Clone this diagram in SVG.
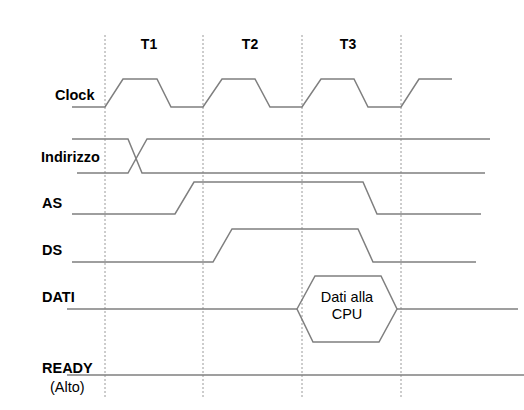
<svg xmlns="http://www.w3.org/2000/svg" width="524" height="410" viewBox="0 0 524 410">
<style>
.sig{fill:none;stroke:#7f7f7f;stroke-width:1.5;stroke-linejoin:miter}
.grid{fill:none;stroke:#9a9a9a;stroke-width:1;stroke-dasharray:2,2}
.lbl{font-family:"Liberation Sans",Arial,sans-serif;font-weight:bold;font-size:14.5px;fill:#000}
.t{font-family:"Liberation Sans",Arial,sans-serif;font-weight:bold;font-size:14px;fill:#000;text-anchor:middle}
.n{font-family:"Liberation Sans",Arial,sans-serif;font-size:14.5px;fill:#000}
</style>
<rect width="524" height="410" fill="#fff"/>
<g id="grid">
<line class="grid" x1="105" y1="35" x2="105" y2="398"/>
<line class="grid" x1="203" y1="35" x2="203" y2="398"/>
<line class="grid" x1="302" y1="35" x2="302" y2="398"/>
<line class="grid" x1="401" y1="35" x2="401" y2="398"/>
</g>
<g id="periods">
<text class="t" x="149" y="49">T1</text>
<text class="t" x="250" y="49">T2</text>
<text class="t" x="348" y="49">T3</text>
</g>
<g id="clock">
<text class="lbl" x="55" y="100">Clock</text>
<polyline class="sig" points="72,107 105,107 123,79 157,79 171,107 203,107 222,79 255,79 270,107 302,107 321,79 354,79 368,107 401,107 419,79 452,79"/>
</g>
<g id="indirizzo">
<text class="lbl" x="41" y="162">Indirizzo</text>
<polyline class="sig" points="72,139 128,139 142,173 485,173"/>
<polyline class="sig" points="77,173 128,173 147,139 490,139"/>
</g>
<g id="as">
<text class="lbl" x="42" y="208">AS</text>
<polyline class="sig" points="72,214 175,214 194,182 363,182 377,214 481,214"/>
</g>
<g id="ds">
<text class="lbl" x="42" y="255">DS</text>
<polyline class="sig" points="72,262 213,262 232,229 358,229 373,262 476,262"/>
</g>
<g id="dati">
<text class="lbl" x="42" y="302">DATI</text>
<line class="sig" x1="67" y1="309" x2="297" y2="309"/>
<polygon class="sig" points="297,309 315,276 381,276 397,309 379,342 313,342"/>
<line class="sig" x1="397" y1="309" x2="518" y2="309"/>
<text class="n" x="347" y="302" text-anchor="middle">Dati alla</text>
<text class="n" x="347" y="319" text-anchor="middle">CPU</text>
</g>
<g id="ready">
<text class="lbl" x="42" y="373">READY</text>
<text class="n" x="50" y="392">(Alto)</text>
<line class="sig" x1="67" y1="375" x2="524" y2="375"/>
</g>
</svg>
